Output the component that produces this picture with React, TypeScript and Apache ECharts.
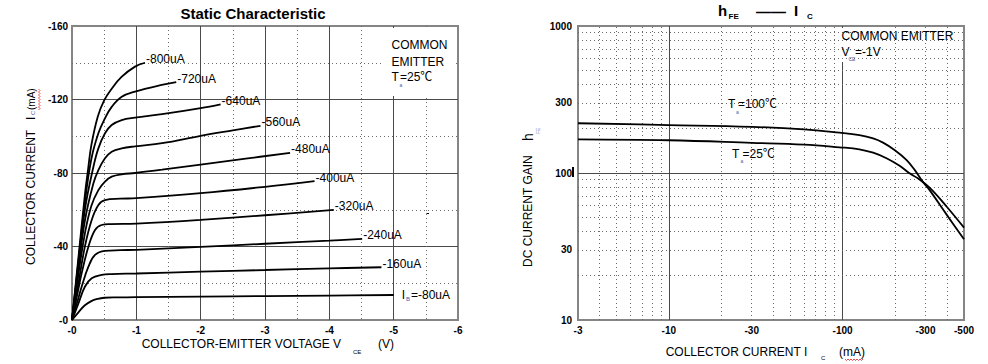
import React, { useEffect, useRef } from 'react';
import * as echarts from 'echarts';

const FONT = '"Liberation Sans", Arial, "Noto Sans CJK SC", sans-serif';

// ---------- Left chart: static characteristic, [VCE (V), IC (mA)] magnitudes ----------
const ibNames = ['-800uA', '-720uA', '-640uA', '-560uA', '-480uA', '-400uA', '-320uA', '-240uA', '-160uA', '-80uA'];
const curve800 = [[0, 0], [0.1, 34], [0.2, 68], [0.25, 82], [0.3, 95], [0.4, 110.6], [0.5, 119.5], [0.62, 126], [0.77, 132.3], [0.98, 137.9], [1.135, 140]];
const curve720 = [[0, 0], [0.1, 32], [0.2, 64], [0.3, 87.5], [0.41, 101.6], [0.513, 109.8], [0.617, 116], [0.773, 121.5], [0.98, 124.3], [1.395, 127.9], [1.62, 129.4]];
const curve640 = [[0, 0], [0.1, 30], [0.2, 60], [0.333, 83.4], [0.41, 93.4], [0.513, 101.6], [0.617, 106.1], [0.773, 108.8], [0.98, 110.1], [1.4, 112], [2.0, 115.3], [2.31, 117.4]];
const curve560 = [[0, 0], [0.1, 28], [0.2, 54], [0.333, 74.4], [0.41, 81.6], [0.513, 88], [0.617, 91.6], [0.773, 93.4], [0.98, 94.5], [1.4, 96.2], [2.0, 100.2], [2.5, 103.2], [2.93, 105.7]];
const curve480 = [[0, 0], [0.1, 25], [0.2, 47], [0.3, 62], [0.41, 70.7], [0.513, 75.3], [0.617, 78], [0.773, 79.3], [0.98, 80], [1.4, 81.8], [2.0, 84.6], [2.7, 87.8], [3.39, 91]];
const curve400 = [[0, 0], [0.1, 20], [0.2, 39.9], [0.306, 54.4], [0.41, 62.6], [0.513, 65.3], [0.75, 66], [1.0, 66.3], [2.0, 69], [3.0, 72.5], [3.77, 75.6]];
const curve320 = [[0, 0], [0.1, 17], [0.15, 25.4], [0.255, 39.9], [0.358, 49], [0.46, 51.7], [0.6, 52.2], [1.0, 52.5], [2.0, 54.5], [3.0, 57], [4.07, 59.9]];
const curve240 = [[0, 0], [0.1, 12], [0.15, 18.1], [0.255, 29], [0.358, 35.4], [0.513, 37.6], [0.75, 38], [1.0, 38.2], [2.0, 39.8], [3.0, 41.5], [4.0, 43.2], [4.51, 44.1]];
const curve160 = [[0, 0], [0.1, 9], [0.2, 18.1], [0.306, 22.7], [0.46, 24.5], [0.617, 25], [1.0, 25.3], [2.0, 26.3], [3.0, 27.2], [4.0, 28.1], [4.81, 28.7]];
const curve80 = [[0, 0], [0.1, 4.2], [0.2, 8], [0.3, 10.3], [0.4, 11.5], [0.5, 12.1], [0.7, 12.3], [1.0, 12.4], [2.0, 12.7], [3.0, 13], [4.0, 13.3], [5.0, 13.6]];
const staticCurves = [curve800, curve720, curve640, curve560, curve480, curve400, curve320, curve240, curve160, curve80];

// ---------- Right chart: hFE vs IC ----------
const ic100 = [3, 10, 30, 60, 96, 125, 150, 171, 200, 233, 260, 290, 317, 400, 500];
const hfe100 = [218, 212, 206, 198, 188, 181, 172, 161, 143, 123, 105, 87, 76.5, 51.5, 35.4];
const ic25 = [3, 10, 30, 60, 96, 125, 150, 179, 213, 243, 271, 317, 400, 500];
const hfe25 = [169.5, 167, 160.5, 156, 149.6, 145, 137.4, 126, 112, 99.5, 92, 79.5, 58.5, 42.5];

const icLabelValues = [3, 10, 30, 100, 300, 500];
const hfeLabelValues = [10, 30, 100, 300, 1000];
const icMinorGrid = [4, 5, 6, 7, 8, 9, 20, 30, 40, 50, 60, 70, 80, 90, 200, 300, 400];
const hfeMinorGrid = [20, 30, 40, 50, 60, 70, 80, 90, 200, 300, 400, 500, 600, 700, 800, 900];

const BORDER = '#858585';
const MAJOR = '#4a4a4a';
const MINOR = '#6a6a6a';
const SUB = '#4a5aa8';

function txt(text: string, x: number, y: number, size = 12, extra: any = {}) {
  return {
    type: 'text', x, y, z: 20, silent: true,
    style: { text, fontSize: size, fontFamily: FONT, fill: '#000', align: 'left', verticalAlign: 'middle', ...extra },
  };
}
function whiteRect(x: number, y: number, w: number, h: number) {
  return { type: 'rect', z: 5, silent: true, shape: { x, y, width: w, height: h }, style: { fill: '#fff' } };
}
function wavy(x0: number, x1: number, y: number) {
  const pts: number[][] = [];
  let k = 0;
  for (let p = x0; p <= x1; p += 1.5) {
    pts.push([p, y + (k % 2 === 0 ? 0 : 1.5)]);
    k++;
  }
  return { type: 'polyline', z: 20, silent: true, shape: { points: pts }, style: { stroke: '#e02020', lineWidth: 0.8, fill: null } };
}

export default function App() {
  const ref = useRef<HTMLDivElement>(null);
  useEffect(() => {
    if (!ref.current) return;
    const chart = echarts.init(ref.current, null, { renderer: 'svg' });

    const tickLabel = { fontSize: 10, fontWeight: 'bold', color: '#000', fontFamily: FONT };

    const leftSeries = staticCurves.map((c, i) => ({
      type: 'line', xAxisIndex: 0, yAxisIndex: 0, data: c, showSymbol: false, symbol: 'none',
      smooth: 0.4, z: 10, silent: true,
      lineStyle: { color: '#000', width: 1.8 },
      endLabel: i === staticCurves.length - 1
        ? {
            show: true, distance: 8, offset: [0, 0], formatter: '{m|I}{s|B}{m|=' + ibNames[i] + '}',
            rich: {
              m: { fontSize: 12, fontFamily: FONT, color: '#000' },
              s: { fontSize: 6, fontFamily: FONT, color: SUB, padding: [8, 1, 0, 1] },
            },
          }
        : { show: true, distance: 1, offset: [0, -3.5], formatter: ibNames[i], fontSize: 12, fontFamily: FONT, color: '#000' },
    }));

    const option: any = {
      animation: false,
      textStyle: { fontFamily: FONT },
      grid: [
        { left: 72, top: 26, width: 386, height: 294, show: true, borderColor: BORDER, borderWidth: 2, backgroundColor: 'rgba(0,0,0,0)' },
        { left: 578, top: 26, width: 386, height: 294, show: true, borderColor: BORDER, borderWidth: 2, backgroundColor: 'rgba(0,0,0,0)' },
      ],
      xAxis: [
        {
          type: 'value', gridIndex: 0, min: 0, max: 6, interval: 1,
          axisLine: { show: false }, axisTick: { show: false },
          axisLabel: { ...tickLabel, margin: 5, formatter: (v: number) => '-' + v },
          splitLine: { show: true, showMinLine: false, showMaxLine: false, lineStyle: { color: MAJOR, width: 1 } },
          minorTick: { show: false, splitNumber: 2 },
          minorSplitLine: { show: true, lineStyle: { color: MINOR, width: 1, type: [1, 3] } },
        },
        {
          type: 'log', gridIndex: 1, logBase: 10, min: 3, max: 500,
          axisLine: { show: false }, axisTick: { show: false },
          axisLabel: { ...tickLabel, margin: 5, customValues: icLabelValues, formatter: (v: number) => '-' + v },
          splitLine: { show: true, showMinLine: false, showMaxLine: false, lineStyle: { color: MAJOR, width: 1 } },
        },
      ],
      yAxis: [
        {
          type: 'value', gridIndex: 0, min: 0, max: 160, interval: 40,
          axisLine: { show: false }, axisTick: { show: false },
          axisLabel: { ...tickLabel, margin: 4, formatter: (v: number) => '-' + v },
          splitLine: { show: true, showMinLine: false, showMaxLine: false, lineStyle: { color: MAJOR, width: 1 } },
          minorTick: { show: false, splitNumber: 2 },
          minorSplitLine: { show: true, lineStyle: { color: MINOR, width: 1, type: [1, 3] } },
        },
        {
          type: 'log', gridIndex: 1, logBase: 10, min: 10, max: 1000,
          axisLine: { show: false }, axisTick: { show: false },
          axisLabel: { ...tickLabel, margin: 6, customValues: hfeLabelValues, formatter: (v: number) => String(v) },
          splitLine: { show: true, showMinLine: false, showMaxLine: false, lineStyle: { color: MAJOR, width: 1 } },
        },
      ],
      series: [
        ...leftSeries,
        {
          type: 'line', xAxisIndex: 1, yAxisIndex: 1, data: [], z: 2, silent: true,
          markLine: {
            silent: true, symbol: ['none', 'none'], label: { show: false }, animation: false,
            emphasis: { disabled: true },
            lineStyle: { color: MINOR, width: 1, type: [1, 3] },
            data: [
              ...icMinorGrid.map((v) => ({ xAxis: v })),
              ...hfeMinorGrid.map((v) => ({ yAxis: v })),
            ],
          },
        },
        {
          type: 'line', name: 'Ta=100', xAxisIndex: 1, yAxisIndex: 1, showSymbol: false, symbol: 'none',
          smooth: 0.4, z: 10, silent: true,
          lineStyle: { color: '#000', width: 1.8 },
          data: ic100.map((v, i) => [v, hfe100[i]]),
        },
        {
          type: 'line', name: 'Ta=25', xAxisIndex: 1, yAxisIndex: 1, showSymbol: false, symbol: 'none',
          smooth: 0.4, z: 10, silent: true,
          lineStyle: { color: '#000', width: 1.8 },
          data: ic25.map((v, i) => [v, hfe25[i]]),
        },
      ],
      graphic: [
        // titles
        txt('Static Characteristic', 253, 13.5, 15, { fontWeight: 'bold', align: 'center' }),
        txt('h', 718, 10.5, 15, { fontWeight: 'bold' }),
        txt('FE', 728.5, 16.5, 8, { fontWeight: 'bold' }),
        txt('——', 756, 11.5, 15, { fontWeight: 'bold' }),
        txt('I', 794, 10.5, 15, { fontWeight: 'bold' }),
        txt('C', 807, 16.5, 8, { fontWeight: 'bold' }),
        // left annotation
        whiteRect(384, 28, 69, 68),
        txt('COMMON', 391.5, 45),
        txt('EMITTER', 391.5, 61.5),
        txt('T', 391.5, 76.5),
        txt('a', 399.5, 85, 5, { fill: SUB }),
        txt('=25℃', 400, 76.5),
        // right annotation
        whiteRect(840, 28, 116, 34),
        txt('COMMON EMITTER', 841.5, 36),
        txt('V', 841.5, 51.5),
        txt('CE', 848.5, 58.5, 5, { fill: SUB }),
        txt('=-1V', 855, 51.5),
        whiteRect(724, 97, 62, 15),
        txt('T', 728, 104.3),
        txt('a', 736, 111.5, 5, { fill: SUB }),
        txt('=100℃', 738, 104.3),
        whiteRect(728, 147, 54, 15),
        txt('T', 732, 154),
        txt('a', 740.5, 160.5, 5, { fill: SUB }),
        txt('=25℃', 742.5, 154),
        // stray marks
        { type: 'line', z: 20, silent: true, shape: { x1: 232.5, y1: 213.5, x2: 236.5, y2: 213.5 }, style: { stroke: '#000', lineWidth: 1 } },
        { type: 'line', z: 20, silent: true, shape: { x1: 426.5, y1: 213.5, x2: 429, y2: 213.5 }, style: { stroke: '#000', lineWidth: 1 } },
        { type: 'rect', z: 20, silent: true, shape: { x: 572, y: 167, width: 2, height: 10 }, style: { fill: '#000' } },
        // x axis names
        txt('COLLECTOR-EMITTER VOLTAGE V', 141.7, 344),
        txt('CE', 353, 351.7, 6),
        txt('(V)', 378, 344),
        txt('COLLECTOR CURRENT I', 665.7, 351.7),
        txt('C', 821, 358.3, 6),
        txt('(mA)', 839, 351.7),
        wavy(845, 864, 359),
        // y axis names (rotated)
        {
          type: 'group', x: 31, y: 265, rotation: Math.PI / 2, z: 20, silent: true,
          children: [
            txt('COLLECTOR CURRENT', 0, 0),
            txt('I', 145, 0),
            txt('C', 150, 1.5, 6, { fill: SUB }),
            txt('(mA)', 155, 0, 10),
            wavy(155, 177, 7.5),
          ],
        },
        {
          type: 'group', x: 528, y: 267, rotation: Math.PI / 2, z: 20, silent: true,
          children: [
            txt('DC CURRENT GAIN', 0, 0),
            txt('h', 126, 0, 14),
            txt('FE', 133, 9.5, 5, { fill: '#8080b0' }),
          ],
        },
      ],
    };
    chart.setOption(option);
    return () => chart.dispose();
  }, []);
  return <div ref={ref} style={{ position: 'fixed', left: 0, top: 0, width: 988, height: 364, background: '#fff' }} />;
}
